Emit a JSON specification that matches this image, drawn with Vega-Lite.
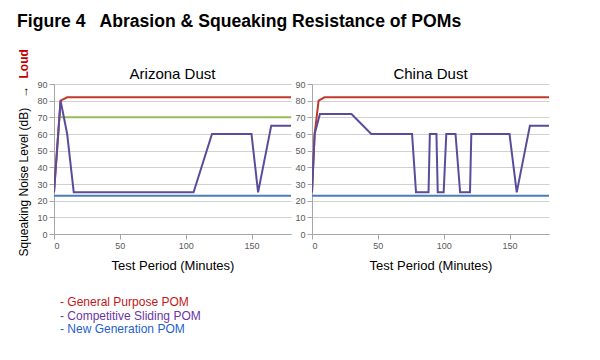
{
  "$schema": "https://vega.github.io/schema/vega-lite/v6.json",
  "padding": {"left": 17, "top": 13, "right": 5, "bottom": 5},
  "autosize": {"type": "pad"},
  "spacing": 3,
  "title": {
    "text": "Figure 4\u00a0\u00a0 Abrasion & Squeaking Resistance of POMs",
    "anchor": "start",
    "fontSize": 17.6,
    "fontWeight": "bold",
    "font": "Liberation Sans",
    "color": "#000000",
    "offset": 18
  },
  "config": {
    "view": {"stroke": null},
    "axis": {
      "labelFont": "Liberation Sans",
      "titleFont": "Liberation Sans",
      "labelFontSize": 9,
      "labelColor": "#595959",
      "tickColor": "#a6a6a6",
      "domainColor": "#a6a6a6",
      "gridColor": "#d0d0d0",
      "tickSize": 5,
      "labelPadding": 2,
      "titleColor": "#000000",
      "titleFontWeight": "normal"
    },
    "title": {"font": "Liberation Sans"}
  },
  "datasets": {
    "lines": [
      {"panel": "Arizona Dust", "series": "General Purpose POM", "x": 0, "y": 25},
      {"panel": "Arizona Dust", "series": "General Purpose POM", "x": 5, "y": 80},
      {"panel": "Arizona Dust", "series": "General Purpose POM", "x": 10, "y": 82},
      {"panel": "Arizona Dust", "series": "General Purpose POM", "x": 180, "y": 82},
      {"panel": "Arizona Dust", "series": "70 dB level", "x": 4, "y": 70},
      {"panel": "Arizona Dust", "series": "70 dB level", "x": 180, "y": 70},
      {"panel": "Arizona Dust", "series": "New Generation POM", "x": 0, "y": 23},
      {"panel": "Arizona Dust", "series": "New Generation POM", "x": 180, "y": 23},
      {"panel": "Arizona Dust", "series": "Competitive Sliding POM", "x": 0, "y": 25},
      {"panel": "Arizona Dust", "series": "Competitive Sliding POM", "x": 5, "y": 80},
      {"panel": "Arizona Dust", "series": "Competitive Sliding POM", "x": 10, "y": 60},
      {"panel": "Arizona Dust", "series": "Competitive Sliding POM", "x": 15, "y": 25},
      {"panel": "Arizona Dust", "series": "Competitive Sliding POM", "x": 106, "y": 25},
      {"panel": "Arizona Dust", "series": "Competitive Sliding POM", "x": 120, "y": 60},
      {"panel": "Arizona Dust", "series": "Competitive Sliding POM", "x": 150, "y": 60},
      {"panel": "Arizona Dust", "series": "Competitive Sliding POM", "x": 155, "y": 25},
      {"panel": "Arizona Dust", "series": "Competitive Sliding POM", "x": 165, "y": 65},
      {"panel": "Arizona Dust", "series": "Competitive Sliding POM", "x": 180, "y": 65},
      {"panel": "China Dust", "series": "General Purpose POM", "x": 0, "y": 25},
      {"panel": "China Dust", "series": "General Purpose POM", "x": 2, "y": 60},
      {"panel": "China Dust", "series": "General Purpose POM", "x": 5, "y": 80},
      {"panel": "China Dust", "series": "General Purpose POM", "x": 9.5, "y": 82},
      {"panel": "China Dust", "series": "General Purpose POM", "x": 180, "y": 82},
      {"panel": "China Dust", "series": "New Generation POM", "x": 0, "y": 23},
      {"panel": "China Dust", "series": "New Generation POM", "x": 180, "y": 23},
      {"panel": "China Dust", "series": "Competitive Sliding POM", "x": 0, "y": 25},
      {"panel": "China Dust", "series": "Competitive Sliding POM", "x": 2, "y": 60},
      {"panel": "China Dust", "series": "Competitive Sliding POM", "x": 6, "y": 72},
      {"panel": "China Dust", "series": "Competitive Sliding POM", "x": 30, "y": 72},
      {"panel": "China Dust", "series": "Competitive Sliding POM", "x": 45, "y": 60},
      {"panel": "China Dust", "series": "Competitive Sliding POM", "x": 76, "y": 60},
      {"panel": "China Dust", "series": "Competitive Sliding POM", "x": 79, "y": 25},
      {"panel": "China Dust", "series": "Competitive Sliding POM", "x": 88.5, "y": 25},
      {"panel": "China Dust", "series": "Competitive Sliding POM", "x": 89.5, "y": 60},
      {"panel": "China Dust", "series": "Competitive Sliding POM", "x": 94.5, "y": 60},
      {"panel": "China Dust", "series": "Competitive Sliding POM", "x": 95.5, "y": 25},
      {"panel": "China Dust", "series": "Competitive Sliding POM", "x": 100, "y": 25},
      {"panel": "China Dust", "series": "Competitive Sliding POM", "x": 102, "y": 60},
      {"panel": "China Dust", "series": "Competitive Sliding POM", "x": 109, "y": 60},
      {"panel": "China Dust", "series": "Competitive Sliding POM", "x": 112.5, "y": 25},
      {"panel": "China Dust", "series": "Competitive Sliding POM", "x": 120, "y": 25},
      {"panel": "China Dust", "series": "Competitive Sliding POM", "x": 121, "y": 60},
      {"panel": "China Dust", "series": "Competitive Sliding POM", "x": 150, "y": 60},
      {"panel": "China Dust", "series": "Competitive Sliding POM", "x": 155.5, "y": 25},
      {"panel": "China Dust", "series": "Competitive Sliding POM", "x": 165.5, "y": 65},
      {"panel": "China Dust", "series": "Competitive Sliding POM", "x": 180, "y": 65}
    ]
  },
  "hconcat": [
    {
      "width": 237,
      "height": 150,
      "title": {"text": "Arizona Dust", "fontSize": 15, "fontWeight": "normal", "anchor": "middle", "frame": "group", "offset": -33, "color": "#000000"},
      "data": {"name": "lines"},
      "transform": [{"filter": "datum.panel == 'Arizona Dust'"}],
      "layer": [
        {
          "mark": {"type": "line", "strokeWidth": 2, "clip": true},
          "encoding": {
            "x": {
              "field": "x", "type": "quantitative",
              "scale": {"domain": [0, 180], "nice": false},
              "axis": {"values": [0, 50, 100, 150], "grid": false, "title": "Test Period (Minutes)", "titleFontSize": 13, "titlePadding": 9}
            },
            "y": {
              "field": "y", "type": "quantitative",
              "scale": {"domain": [0, 90], "nice": false},
              "axis": {
                "values": [0, 10, 20, 30, 40, 50, 60, 70, 80, 90],
                "grid": true,
                "title": "Squeaking Noise Level (dB)\u00a0\u00a0 →",
                "titleFontSize": 12,
                "titleX": -24,
                "titleY": 172,
                "titleAlign": "left",
                "titleBaseline": "bottom"
              }
            },
            "color": {
              "field": "series", "type": "nominal",
              "scale": {
                "domain": ["New Generation POM", "70 dB level", "General Purpose POM", "Competitive Sliding POM"],
                "range": ["#4a7ebb", "#9bbb59", "#c0392b", "#5b4b9b"]
              },
              "legend": {
                "orient": "none",
                "legendX": -6,
                "legendY": 212,
                "title": null,
                "values": ["General Purpose POM", "Competitive Sliding POM", "New Generation POM"],
                "symbolSize": 0,
                "symbolOpacity": 0,
                "symbolStrokeWidth": 0,
                "labelOffset": 0,
                "labelFont": "Liberation Sans",
                "labelFontSize": 12,
                "labelExpr": "'- ' + datum.label",
                "labelColor": {"expr": "datum.value == 'General Purpose POM' ? '#c01818' : datum.value == 'Competitive Sliding POM' ? '#6a35a5' : '#1f5fd0'"},
                "rowPadding": 1.5,
                "padding": 0,
                "direction": "vertical"
              }
            }
          }
        },
        {
          "mark": {"type": "point", "opacity": 0},
          "encoding": {
            "y": {
              "field": "y", "type": "quantitative",
              "scale": {"domain": [0, 90], "nice": false},
              "axis": {
                "orient": "left",
                "labels": false,
                "ticks": false,
                "domain": false,
                "grid": false,
                "title": "Loud",
                "titleColor": "#c00000",
                "titleFontWeight": "bold",
                "titleFontSize": 12,
                "titleX": -24,
                "titleY": -6,
                "titleAlign": "left",
                "titleBaseline": "bottom"
              }
            }
          }
        }
      ],
      "resolve": {"scale": {"y": "independent"}}
    },
    {
      "width": 237,
      "height": 150,
      "title": {"text": "China Dust", "fontSize": 15, "fontWeight": "normal", "anchor": "middle", "frame": "group", "offset": -2, "color": "#000000"},
      "data": {"name": "lines"},
      "transform": [{"filter": "datum.panel == 'China Dust'"}],
      "mark": {"type": "line", "strokeWidth": 2, "clip": true},
      "encoding": {
        "x": {
          "field": "x", "type": "quantitative",
          "scale": {"domain": [0, 180], "nice": false},
          "axis": {"values": [0, 50, 100, 150], "grid": false, "title": "Test Period (Minutes)", "titleFontSize": 13, "titlePadding": 9}
        },
        "y": {
          "field": "y", "type": "quantitative",
          "scale": {"domain": [0, 90], "nice": false},
          "axis": {"values": [0, 10, 20, 30, 40, 50, 60, 70, 80, 90], "grid": true, "title": null}
        },
        "color": {"field": "series", "type": "nominal"}
      }
    }
  ]
}
